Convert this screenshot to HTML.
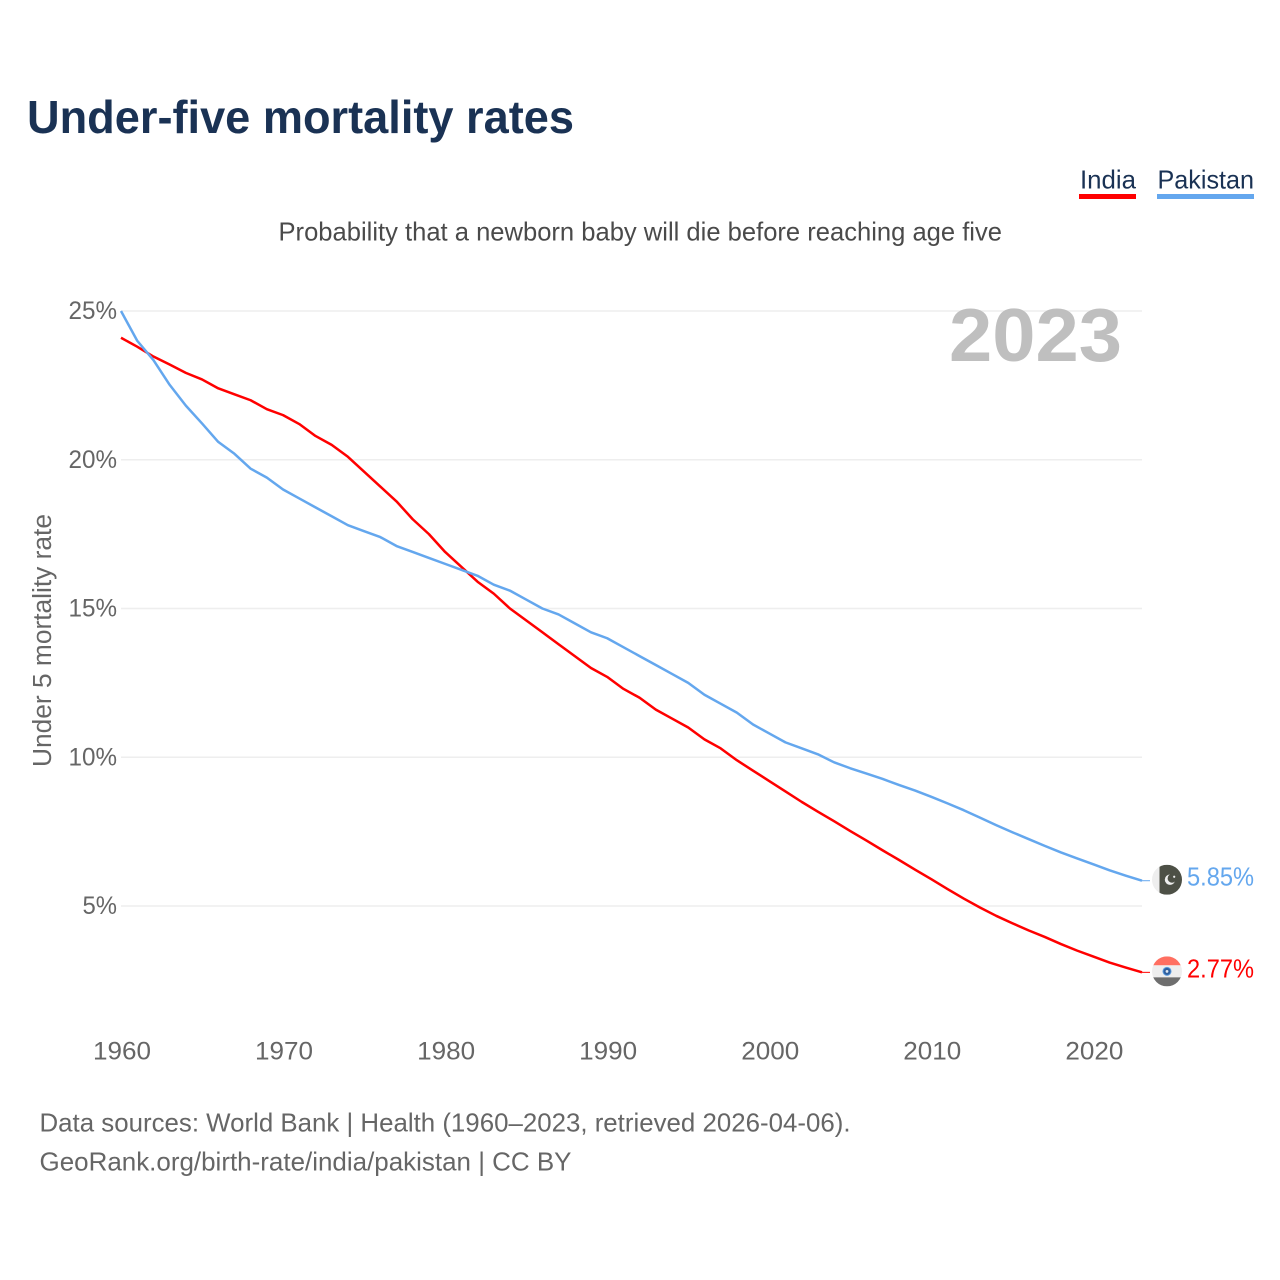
<!DOCTYPE html>
<html lang="en">
<head>
<meta charset="utf-8">
<title>Under-five mortality rates</title>
<style>
html,body{margin:0;padding:0;background:#fff;width:1280px;height:1280px;overflow:hidden}
svg{display:block;font-family:"Liberation Sans",sans-serif}
</style>
</head>
<body>
<svg id="chart" width="1280" height="1280" viewBox="0 0 1280 1280" xmlns="http://www.w3.org/2000/svg">
  <text x="27" y="133" font-size="46" font-weight="700" fill="#1a3254" textLength="547" lengthAdjust="spacingAndGlyphs">Under-five mortality rates</text>
  <g>
    <g>
      <text x="1080" y="188.5" font-size="26" fill="#1a3254" textLength="56" lengthAdjust="spacingAndGlyphs">India</text>
      <rect x="1079" y="194" width="57" height="5" fill="#ff0000"/>
    </g>
    <g>
      <text x="1157.5" y="188.5" font-size="26" fill="#1a3254" textLength="96.5" lengthAdjust="spacingAndGlyphs">Pakistan</text>
      <rect x="1157" y="194" width="97" height="5" fill="#64a7ee"/>
    </g>
  </g>
  <text x="278.5" y="240.5" font-size="26" fill="#4a4a4a" textLength="723.5" lengthAdjust="spacingAndGlyphs">Probability that a newborn baby will die before reaching age five</text>
  <text transform="translate(51,767) rotate(-90)" font-size="25.5" fill="#666666" textLength="253" lengthAdjust="spacingAndGlyphs">Under 5 mortality rate</text>
  <g id="grid"></g>
  <text x="949" y="361" font-size="75" font-weight="700" fill="#bfbfbf" textLength="173" lengthAdjust="spacingAndGlyphs">2023</text>
  <g id="yticks"></g>
  <g id="xticks"></g>
  <g id="series"></g>
  <g id="ends"></g>
  <text x="39.5" y="1131.5" font-size="26" fill="#666666" textLength="811" lengthAdjust="spacingAndGlyphs">Data sources: World Bank | Health (1960–2023, retrieved 2026-04-06).</text>
  <text x="39.5" y="1170.5" font-size="26" fill="#666666" textLength="532" lengthAdjust="spacingAndGlyphs">GeoRank.org/birth-rate/india/pakistan | CC BY</text>
</svg>
<script>
const years = [1960,1961,1962,1963,1964,1965,1966,1967,1968,1969,1970,1971,1972,1973,1974,1975,1976,1977,1978,1979,1980,1981,1982,1983,1984,1985,1986,1987,1988,1989,1990,1991,1992,1993,1994,1995,1996,1997,1998,1999,2000,2001,2002,2003,2004,2005,2006,2007,2008,2009,2010,2011,2012,2013,2014,2015,2016,2017,2018,2019,2020,2021,2022,2023];
const india = [24.1,23.8,23.47,23.2,22.92,22.7,22.4,22.2,22.0,21.7,21.5,21.2,20.8,20.5,20.1,19.6,19.1,18.6,18.0,17.5,16.9,16.4,15.9,15.5,15.0,14.6,14.2,13.8,13.4,13.0,12.7,12.3,12.0,11.6,11.3,11.0,10.6,10.3,9.9,9.55,9.2,8.85,8.5,8.17,7.85,7.52,7.2,6.87,6.55,6.22,5.9,5.57,5.25,4.95,4.67,4.42,4.18,3.96,3.72,3.5,3.3,3.1,2.93,2.77];
const pakistan = [25.0,24.0,23.35,22.52,21.82,21.22,20.6,20.2,19.7,19.4,19.0,18.7,18.4,18.1,17.8,17.6,17.4,17.1,16.9,16.7,16.5,16.3,16.1,15.8,15.6,15.3,15.0,14.8,14.5,14.2,14.0,13.7,13.4,13.1,12.8,12.5,12.1,11.8,11.5,11.1,10.8,10.5,10.3,10.1,9.83,9.63,9.45,9.27,9.07,8.88,8.67,8.45,8.22,7.97,7.72,7.48,7.25,7.02,6.8,6.6,6.4,6.2,6.02,5.85];
const yTickValues = [5,10,15,20,25];
const yTickLabels = ["5%","10%","15%","20%","25%"];
const xTickValues = [1960,1970,1980,1990,2000,2010,2020];
const xTickLabels = ["1960","1970","1980","1990","2000","2010","2020"];
const indiaEndLabel = "2.77%";
const pakistanEndLabel = "5.85%";

const NS = "http://www.w3.org/2000/svg";
const xScale = v => 121 + (v - 1960) * (1142 - 121) / 63;
const yScale = v => 906 - (v - 5) * 29.75;
const indiaColor = "#ff0000";
const pakistanColor = "#64a7ee";

function make(tag, parent, attrs, text) {
  const el = document.createElementNS(NS, tag);
  for (const k in attrs) el.setAttribute(k, attrs[k]);
  if (text !== undefined) el.textContent = text;
  parent.appendChild(el);
  return el;
}
const grid = document.getElementById("grid");
const yticks = document.getElementById("yticks");
const xticks = document.getElementById("xticks");
const seriesG = document.getElementById("series");
const ends = document.getElementById("ends");

yTickValues.forEach((v, i) => {
  const line = make("line", grid, {x1: 121, x2: 1142, y1: yScale(v), y2: yScale(v), stroke: "#eeeeee", "stroke-width": 1.5});
  
  
  const label = make("text", yticks, {x: 117, y: yScale(v) + 8, "text-anchor": "end", "font-size": 25, fill: "#666666", textLength: yTickLabels[i].length === 2 ? 34.5 : 48.5, lengthAdjust: "spacingAndGlyphs"}, yTickLabels[i]);
  
  
});

xTickValues.forEach((v, i) => {
  const label = make("text", xticks, {x: xScale(v) + 1, y: 1059.5, "text-anchor": "middle", "font-size": 25, fill: "#666666", textLength: 58, lengthAdjust: "spacingAndGlyphs"}, xTickLabels[i]);
  
  
});

function pathFor(values) {
  return values.map((v, i) => (i ? "L" : "M") + xScale(years[i]).toFixed(2) + " " + yScale(v).toFixed(2)).join(" ");
}

const indiaLine = make("path", seriesG, {d: pathFor(india), fill: "none", stroke: indiaColor, "stroke-width": 2.5, "stroke-linejoin": "round"});


const pakistanLine = make("path", seriesG, {d: pathFor(pakistan), fill: "none", stroke: pakistanColor, "stroke-width": 2.5, "stroke-linejoin": "round"});



const lastIndiaY = yScale(india[india.length - 1]);
const lastPakistanY = yScale(pakistan[pakistan.length - 1]);
const endX = xScale(years[years.length - 1]);

const indiaLeader = make("line", ends, {x1: endX, x2: endX + 8, y1: lastIndiaY, y2: lastIndiaY, stroke: indiaColor, "stroke-width": 1});


const pakistanLeader = make("line", ends, {x1: endX, x2: endX + 8, y1: lastPakistanY, y2: lastPakistanY, stroke: pakistanColor, "stroke-width": 1});



const defs = make("defs", ends, {});


const clipIn = make("clipPath", defs, {id: "clip-in"});
make("circle", clipIn, {cx: 1167, cy: lastIndiaY - 1, r: 15});
const clipPk = make("clipPath", defs, {id: "clip-pk"});
make("circle", clipPk, {cx: 1167, cy: lastPakistanY - 1, r: 15});

const flagIn = make("g", ends, {"clip-path": "url(#clip-in)"});


const cyIn = lastIndiaY - 1;
make("rect", flagIn, {x: 1152, y: cyIn - 15, width: 30, height: 9, fill: "#ff6f61"});
make("rect", flagIn, {x: 1152, y: cyIn - 6, width: 30, height: 12, fill: "#eeeeee"});
make("rect", flagIn, {x: 1152, y: cyIn + 6, width: 30, height: 9, fill: "#6e6e6e"});
make("circle", flagIn, {cx: 1167, cy: cyIn, r: 4, fill: "#2f5f9e", stroke: "#5a9be0", "stroke-width": 1});
make("circle", flagIn, {cx: 1167, cy: cyIn, r: 1.4, fill: "#dfe8f2"});

const flagPk = make("g", ends, {"clip-path": "url(#clip-pk)"});


const cyPk = lastPakistanY - 1;
make("rect", flagPk, {x: 1152, y: cyPk - 15, width: 8, height: 30, fill: "#eeeeee"});
make("rect", flagPk, {x: 1159.5, y: cyPk - 15, width: 23, height: 30, fill: "#4d5046"});
make("circle", flagPk, {cx: 1170, cy: cyPk, r: 5.2, fill: "#eeeeee"});
make("circle", flagPk, {cx: 1172, cy: cyPk - 1.4, r: 4.4, fill: "#4d5046"});
make("circle", flagPk, {cx: 1174.2, cy: cyPk - 3, r: 1.1, fill: "#eeeeee"});

const indiaLabel = make("text", ends, {x: 1187, y: lastIndiaY + 5, "font-size": 25.5, fill: indiaColor, textLength: 67, lengthAdjust: "spacingAndGlyphs"}, indiaEndLabel);


const pakistanLabel = make("text", ends, {x: 1187, y: lastPakistanY + 5, "font-size": 25.5, fill: pakistanColor, textLength: 67, lengthAdjust: "spacingAndGlyphs"}, pakistanEndLabel);


</script>
</body>
</html>
